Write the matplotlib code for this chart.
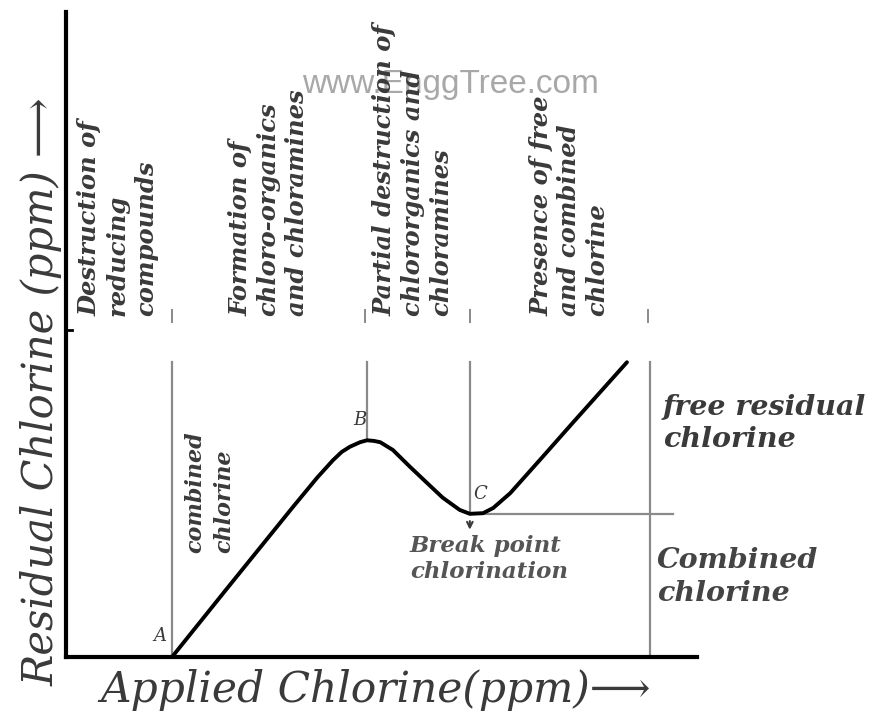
import matplotlib.pyplot as plt

# Breakpoint chlorination curve (arbitrary ppm units)
applied = [1.68, 2.55, 3.60, 3.98, 4.23, 4.37, 4.50, 4.66, 4.77, 4.88, 4.98,
           5.18, 5.45, 5.72, 5.97, 6.24, 6.40, 6.61, 6.77, 7.04, 7.56, 8.03,
           8.46, 8.89]
residual = [0.00, 1.06, 2.33, 2.78, 3.05, 3.18, 3.26, 3.33, 3.36, 3.35, 3.33,
            3.21, 2.95, 2.70, 2.47, 2.28, 2.22, 2.23, 2.31, 2.54, 3.11, 3.63,
            4.10, 4.57]

point_names = ['A', 'B', 'C']
point_x = [1.68, 4.77, 6.40]
point_y = [0.00, 3.36, 2.22]
right_x = 9.26
panel_top = 4.57
hline_end = 9.62

stage_labels = ['Destruction of\nreducing\ncompounds',
                'Formation of\nchloro-organics\nand chloramines',
                'Partial destruction of\nchlororganics and\nchloramines',
                'Presence of free\nand combined\nchlorine']
stage_x = [0.18, 2.57, 4.86, 7.34]
stage_tick_x = [1.68, 4.74, 6.40, 9.23]

txt_col = '#3a3a3a'
line_col = '#8a8a8a'
serif = ['DejaVu Serif', 'DejaVu Sans']

fig = plt.figure(figsize=(8.75, 7.17), dpi=100)
ax = fig.add_axes([66/875, 60/717, 631/875, 645/717])
ax.set_xlim(0, 10)
ax.set_ylim(0, 10)
ax.set_xticks([])
ax.set_yticks([])
for s in ['top', 'right']:
    ax.spines[s].set_visible(False)
for s in ['left', 'bottom']:
    ax.spines[s].set_linewidth(3)
    ax.spines[s].set_color('black')

# watermark
ax.text(6.09, 8.87, 'www.EnggTree.com', fontsize=24, color='#a8a8a8',
        family='Liberation Sans', ha='center', va='center', zorder=0)

# guide lines of the lower panel
ax.plot([point_x[0], point_x[0]], [0, panel_top], color=line_col, lw=1.6)
ax.plot([point_x[1], point_x[1]], [point_y[1], panel_top], color=line_col, lw=1.6)
ax.plot([point_x[2], point_x[2]], [point_y[2], panel_top], color=line_col, lw=1.6)
ax.plot([right_x, right_x], [0, panel_top], color=line_col, lw=1.6)
ax.plot([point_x[2], hline_end], [point_y[2], point_y[2]], color=line_col, lw=1.6)

# small marks under the stage texts
for x in stage_tick_x:
    ax.plot([x, x], [5.2, 5.38], color=line_col, lw=1.4)
ax.plot([0, 0.1], [5.07, 5.07], color='black', lw=2)

# the curve
ax.plot(applied, residual, color='black', lw=2.8, solid_capstyle='round',
        solid_joinstyle='round', clip_on=False, zorder=5)

# stage descriptions (rotated)
for lab, x in zip(stage_labels, stage_x):
    ax.text(x, 5.28, lab, rotation=90, rotation_mode='anchor', ha='left', va='top',
            fontsize=17.5, fontweight='bold', style='italic', family=serif,
            color=txt_col, linespacing=1.22)

# point letters
ax.text(1.49, 0.33, 'A', fontsize=13, style='italic', family=serif,
        color=txt_col, ha='center', va='center')
ax.text(4.66, 3.67, 'B', fontsize=13, style='italic', family=serif,
        color=txt_col, ha='center', va='center')
ax.text(6.56, 2.52, 'C', fontsize=13, style='italic', family=serif,
        color=txt_col, ha='center', va='center')

ax.annotate('', xy=(6.40, 1.93), xytext=(6.40, 2.15),
            arrowprops=dict(arrowstyle='->', color=txt_col, lw=1.5))

ax.text(1.87, 1.62, 'combined\nchlorine', rotation=90, rotation_mode='anchor',
        ha='left', va='top', fontsize=16, fontweight='bold', style='italic',
        family=serif, color=txt_col, linespacing=1.45)

ax.text(5.45, 1.52, 'Break point\nchlorination', ha='left', va='center',
        fontsize=16.5, fontweight='bold', style='italic', family=serif,
        color='#555555', linespacing=1.25)

ax.text(9.46, 3.62, 'free residual\nchlorine', ha='left', va='center',
        fontsize=20.5, fontweight='bold', style='italic', family=serif,
        color=txt_col, linespacing=1.25, clip_on=False)
ax.text(9.37, 1.24, 'Combined\nchlorine', ha='left', va='center',
        fontsize=20.5, fontweight='bold', style='italic', family=serif,
        color='#444444', linespacing=1.3, clip_on=False)

# axis titles
fig.text(42/875, 1 - 392/717, 'Residual Chlorine (ppm) \u27f6', rotation=90,
         ha='center', va='center', fontsize=30, style='italic', family=serif,
         color=txt_col)
fig.text(375/875, 1 - 690/717, 'Applied Chlorine(ppm)\u27f6', ha='center',
         va='center', fontsize=30.5, style='italic', family=serif, color=txt_col)

fig.savefig('out.png', dpi=100)
